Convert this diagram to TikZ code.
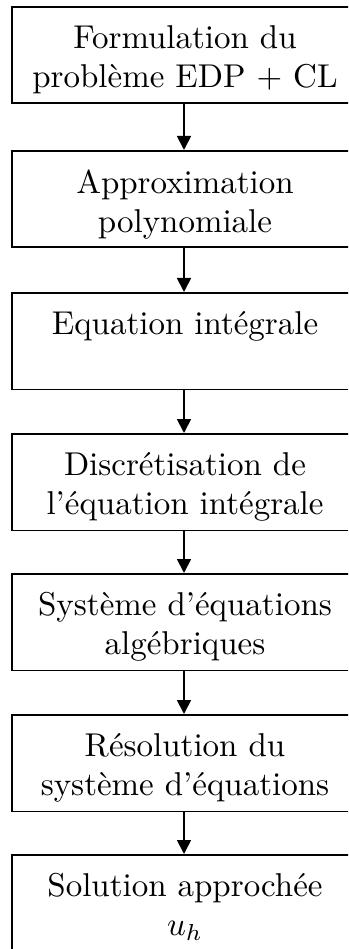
\documentclass[tikz,border=0pt]{standalone}
\usetikzlibrary{arrows.meta}
\begin{document}
\begin{tikzpicture}[x=1pt,y=-1pt,
  stepbox/.style={draw, line width=1.8pt, minimum width=344pt, minimum height=96.5pt, inner sep=0pt, anchor=north},
  lbl/.style={font=\fontsize{10}{11.8}\selectfont, align=center, inner sep=0pt, anchor=north, scale=3.3, transform shape},
  conn/.style={line width=1.8pt, -{Triangle[width=14pt,length=14pt]}}]
\useasboundingbox (0,0) rectangle (348,949);
\clip (0,0) rectangle (348,949);
\node[stepbox] (b1) at (184,6) {};
\node[stepbox] (b2) at (184,150) {};
\node[stepbox] (b3) at (184,292) {};
\node[stepbox] (b4) at (184,433) {};
\node[stepbox] (b5) at (184,573) {};
\node[stepbox] (b6) at (184,714) {};
\node[stepbox] (b7) at (184,854) {};
\node[lbl] (t1) at (185,25) {Formulation du\\problème EDP + CL};
\node[lbl] (t2) at (185,169) {Approximation\\polynomiale};
\node[lbl] (t3) at (185,311) {Equation intégrale};
\node[lbl] (t4) at (185,452) {Discrétisation de\\l’équation intégrale};
\node[lbl] (t5) at (185,592) {Système d’équations\\algébriques};
\node[lbl] (t6) at (185,733) {Résolution du\\système d’équations};
\node[lbl] (t7) at (185,873) {Solution approchée\\$u_h$};
\draw[conn] (b1) -- (b2);
\draw[conn] (b2) -- (b3);
\draw[conn] (b3) -- (b4);
\draw[conn] (b4) -- (b5);
\draw[conn] (b5) -- (b6);
\draw[conn] (b6) -- (b7);
\end{tikzpicture}
\end{document}
